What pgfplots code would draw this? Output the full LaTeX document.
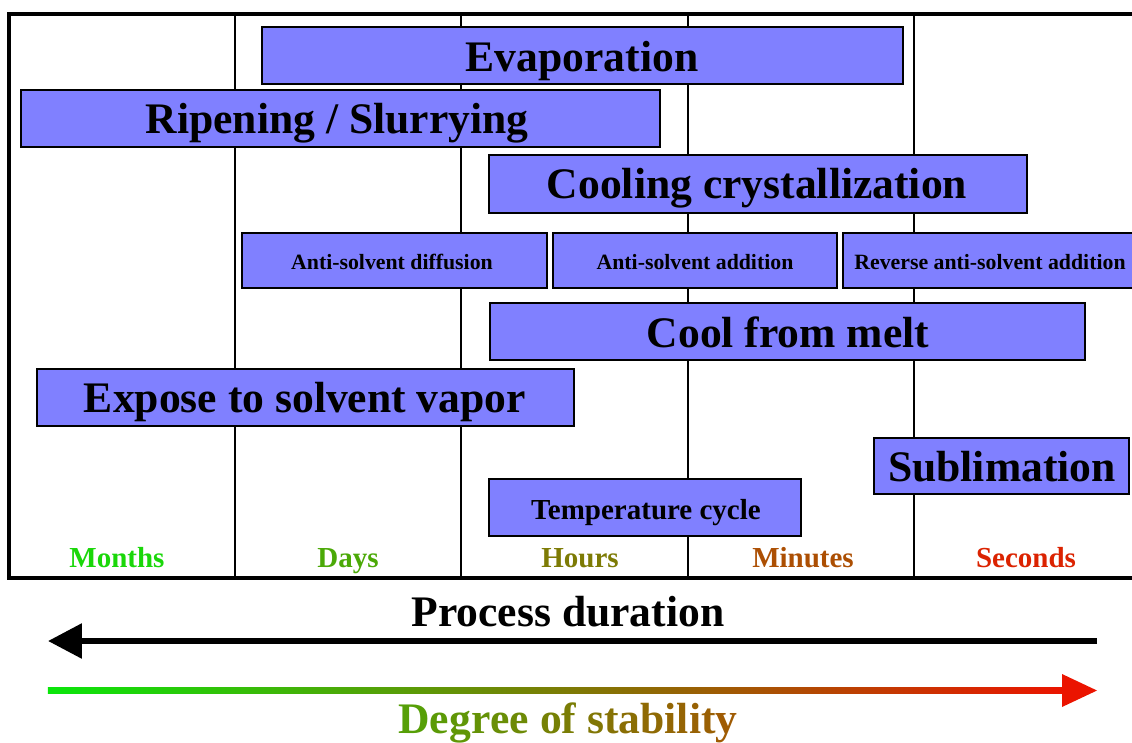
\documentclass[border=0pt]{standalone}
\usepackage{pgfplots}
\pgfplotsset{compat=1.18}
\usepackage{fontspec}
\setmainfont{Liberation Serif}
\usetikzlibrary{arrows.meta}
\definecolor{boxblue}{RGB}{128,128,255}
\definecolor{stabgreen}{RGB}{10,230,10}
\definecolor{stabred}{RGB}{235,20,0}
\newcommand{\gc}[2]{\textcolor{stabred!#1!stabgreen}{#2}}
\newcommand{\bigf}{\fontsize{21.8pt}{24pt}\selectfont\bfseries}
\newcommand{\midf}{\fontsize{14.5pt}{16pt}\selectfont\bfseries}
\newcommand{\smallf}{\fontsize{10.9pt}{12pt}\selectfont\bfseries}
\begin{document}
\begin{tikzpicture}
\useasboundingbox (0,0) rectangle (566pt,-371.5pt);
\begin{axis}[
  at={(4.5pt,-7pt)}, anchor=north west,
  scale only axis, width=565.5pt, height=282pt,
  xmin=9, xmax=1140, ymin=14, ymax=578, y dir=reverse,
  axis line style={black, line width=1.75pt},
  xtick={235,461,688,914}, xticklabels={},
  ytick=\empty,
  major tick length=0pt,
  xmajorgrids, grid style={black, line width=1pt},
  clip=false,
]
% boxes: x1 x2 y1 y2
\addplot[fill=boxblue, draw=black, line width=1.2pt] coordinates {(262,27) (903,27) (903,84) (262,84)} -- cycle;
\addplot[fill=boxblue, draw=black, line width=1.2pt] coordinates {(21,90) (660,90) (660,147) (21,147)} -- cycle;
\addplot[fill=boxblue, draw=black, line width=1.2pt] coordinates {(489,155) (1027,155) (1027,213) (489,213)} -- cycle;
\addplot[fill=boxblue, draw=black, line width=1.2pt] coordinates {(242,233) (547,233) (547,288) (242,288)} -- cycle;
\addplot[fill=boxblue, draw=black, line width=1.2pt] coordinates {(553,233) (837,233) (837,288) (553,288)} -- cycle;
\addplot[fill=boxblue, draw=black, line width=1.2pt] coordinates {(843,233) (1137,233) (1137,288) (843,288)} -- cycle;
\addplot[fill=boxblue, draw=black, line width=1.2pt] coordinates {(490,303) (1085,303) (1085,360) (490,360)} -- cycle;
\addplot[fill=boxblue, draw=black, line width=1.2pt] coordinates {(37,369) (574,369) (574,426) (37,426)} -- cycle;
\addplot[fill=boxblue, draw=black, line width=1.2pt] coordinates {(874,438) (1129,438) (1129,494) (874,494)} -- cycle;
\addplot[fill=boxblue, draw=black, line width=1.2pt] coordinates {(489,479) (801,479) (801,536) (489,536)} -- cycle;
% box labels
\node[anchor=base, inner sep=0pt, font=\bigf] at (axis cs:582,71) {Evaporation};
\node[anchor=base, inner sep=0pt, font=\bigf] at (axis cs:337,133) {Ripening / Slurrying};
\node[anchor=base, inner sep=0pt, font=\bigf] at (axis cs:757,198) {Cooling crystallization};
\node[anchor=base, inner sep=0pt, font=\smallf] at (axis cs:392,269) {Anti-solvent diffusion};
\node[anchor=base, inner sep=0pt, font=\smallf] at (axis cs:695,269) {Anti-solvent addition};
\node[anchor=base, inner sep=0pt, font=\smallf] at (axis cs:990,269) {Reverse anti-solvent addition};
\node[anchor=base, inner sep=0pt, font=\bigf] at (axis cs:788,347) {Cool from melt};
\node[anchor=base, inner sep=0pt, font=\bigf] at (axis cs:305,412) {Expose to solvent vapor};
\node[anchor=base, inner sep=0pt, font=\bigf] at (axis cs:1002,481) {Sublimation};
\node[anchor=base, inner sep=0pt, font=\midf] at (axis cs:646,519) {Temperature cycle};
% column labels
\node[anchor=base, inner sep=0pt, font=\midf, text=stabred!7!stabgreen] at (axis cs:117,567) {Months};
\node[anchor=base, inner sep=0pt, font=\midf, text=stabred!29!stabgreen] at (axis cs:348,567) {Days};
\node[anchor=base, inner sep=0pt, font=\midf, text=stabred!51!stabgreen] at (axis cs:580,567) {Hours};
\node[anchor=base, inner sep=0pt, font=\midf, text=stabred!72!stabgreen] at (axis cs:803,567) {Minutes};
\node[anchor=base, inner sep=0pt, font=\midf, text=stabred!93!stabgreen] at (axis cs:1026,567) {Seconds};
% process duration
\node[anchor=base, inner sep=0pt, font=\bigf] at (axis cs:568,626) {Process duration};
\draw[line width=3pt, -{Triangle[length=17pt,width=17pt]}] (axis cs:1097,641) -- (axis cs:48,641);
% degree of stability
\shade[left color=stabgreen, right color=stabred] (axis cs:48,687) rectangle (axis cs:1065,693);
\fill[stabred] (axis cs:1062,674) -- (axis cs:1097,690.5) -- (axis cs:1062,707) -- cycle;
\node[anchor=base, inner sep=0pt, font=\bigf] at (axis cs:568,733) {\gc{34}{D}\gc{36}{e}\gc{38}{g}\gc{40}{r}\gc{42}{e}\gc{44}{e} \gc{48}{o}\gc{50}{f} \gc{53}{s}\gc{55}{t}\gc{57}{a}\gc{59}{b}\gc{61}{i}\gc{62}{l}\gc{63}{i}\gc{64}{t}\gc{66}{y}};
\end{axis}
\end{tikzpicture}
\end{document}
